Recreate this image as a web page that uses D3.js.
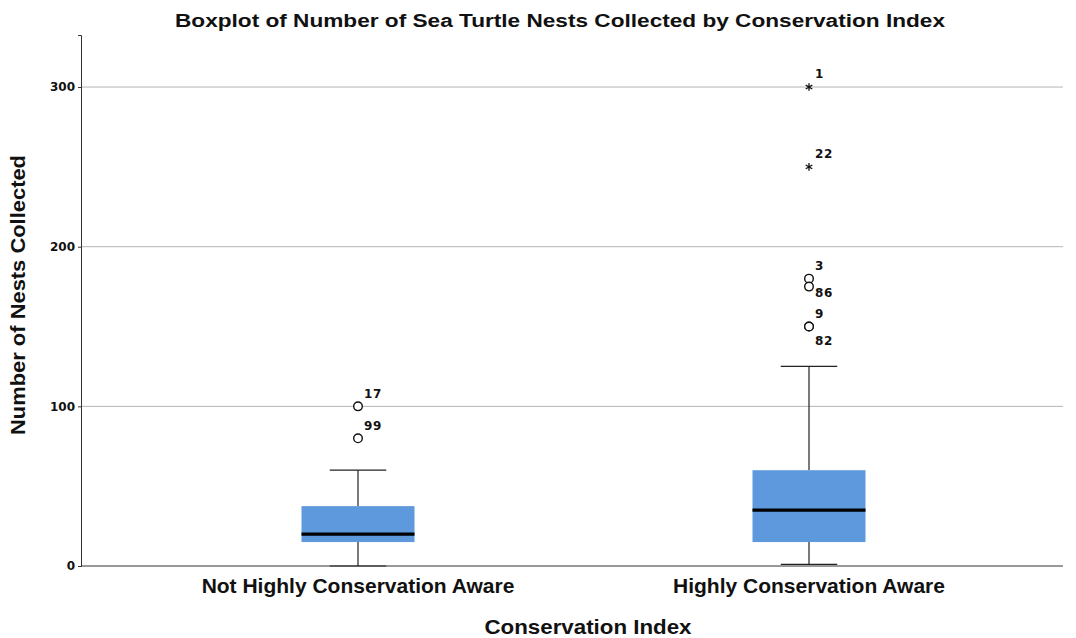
<!DOCTYPE html>
<html>
<head>
<meta charset="utf-8">
<script src="https://cdn.jsdelivr.net/npm/d3@7"></script>
<style>
  body { margin: 0; background: #fff; }
  svg { display: block; }
</style>
</head>
<body>
<svg id="chart" width="1076" height="638"></svg>
<script>
// Groups on the x axis
const categories = ["Not Highly Conservation Aware", "Highly Conservation Aware"];

// Five-number summaries per group (lower whisker, Q1, median, Q3, upper whisker)
const whiskerLow  = [0, 1];
const q1          = [15, 15];
const medians     = [20, 35];
const q3          = [37.5, 60];
const whiskerHigh = [60, 125];

// Outlying cases: group index, value, case id, kind ("o" = outlier, "*" = extreme)
const outlierGroup = [0, 0, 1, 1, 1, 1, 1, 1];
const outlierValue = [100, 80, 300, 250, 180, 175, 150, 150];
const outlierId    = ["17", "99", "1", "22", "3", "86", "9", "82"];
const outlierKind  = ["o", "o", "*", "*", "o", "o", "o", "o"];

const yTicks = [0, 100, 200, 300];

const title = "Boxplot of Number of Sea Turtle Nests Collected by Conservation Index";
const xTitle = "Conservation Index";
const yTitle = "Number of Nests Collected";

// Case labels that would collide are pushed below their marker
const labelBelow = { "86": 6, "82": 14 };

const svg = d3.select("#chart");
const plot = { left: 81, right: 1063, top: 35, bottom: 566 };
const font = "Liberation Sans, Arial, sans-serif";

const y = d3.scaleLinear().domain([0, 332.6]).range([plot.bottom, plot.top]);
const x = d3.scalePoint().domain(categories).range([358, 809]);
const boxW = 113;

// Grid lines
svg.append("g")
  .selectAll("line")
  .data(yTicks.filter(d => d > 0))
  .join("line")
  .attr("x1", plot.left).attr("x2", plot.right)
  .attr("y1", d => y(d)).attr("y2", d => y(d))
  .attr("stroke", "#b4b4b4").attr("stroke-width", 1);

// Y axis
const yAxis = svg.append("g")
  .attr("transform", `translate(${plot.left},0)`)
  .call(d3.axisLeft(y).tickValues(yTicks).tickSize(3).tickFormat(d3.format("d")));
yAxis.select(".domain").attr("stroke", "#333");
yAxis.selectAll(".tick line").attr("stroke", "#333");
yAxis.selectAll(".tick text")
  .attr("font-family", "DejaVu Sans")
  .attr("font-weight", "bold")
  .attr("font-size", 12)
  .attr("fill", "#111")
  .attr("x", -6);

// X axis line
svg.append("line")
  .attr("x1", plot.left).attr("x2", plot.right)
  .attr("y1", plot.bottom).attr("y2", plot.bottom)
  .attr("stroke", "#333").attr("stroke-width", 1);

// Boxes
const groups = svg.append("g").selectAll("g")
  .data(categories.map((c, i) => ({ c, i })))
  .join("g");

// whisker stems
groups.append("line")
  .attr("x1", d => x(d.c)).attr("x2", d => x(d.c))
  .attr("y1", d => y(whiskerLow[d.i])).attr("y2", d => y(q1[d.i]))
  .attr("stroke", "#222").attr("stroke-width", 1.2);
groups.append("line")
  .attr("x1", d => x(d.c)).attr("x2", d => x(d.c))
  .attr("y1", d => y(q3[d.i])).attr("y2", d => y(whiskerHigh[d.i]))
  .attr("stroke", "#222").attr("stroke-width", 1.2);
// whisker caps
[whiskerLow, whiskerHigh].forEach(arr => {
  groups.append("line")
    .attr("x1", d => x(d.c) - boxW / 4).attr("x2", d => x(d.c) + boxW / 4)
    .attr("y1", d => y(arr[d.i])).attr("y2", d => y(arr[d.i]))
    .attr("stroke", "#222").attr("stroke-width", 1.2);
});
// box
groups.append("rect")
  .attr("x", d => x(d.c) - boxW / 2)
  .attr("width", boxW)
  .attr("y", d => y(q3[d.i]))
  .attr("height", d => y(q1[d.i]) - y(q3[d.i]))
  .attr("fill", "#5e99de");
// median
groups.append("line")
  .attr("x1", d => x(d.c) - boxW / 2).attr("x2", d => x(d.c) + boxW / 2)
  .attr("y1", d => y(medians[d.i])).attr("y2", d => y(medians[d.i]))
  .attr("stroke", "#000").attr("stroke-width", 3.2);

// Outliers
const outliers = outlierValue.map((v, k) => ({
  g: categories[outlierGroup[k]], v, id: outlierId[k], kind: outlierKind[k]
}));

const og = svg.append("g");
og.selectAll("circle")
  .data(outliers.filter(d => d.kind === "o"))
  .join("circle")
  .attr("cx", d => x(d.g)).attr("cy", d => y(d.v))
  .attr("r", 4.3)
  .attr("fill", "#fff").attr("stroke", "#111").attr("stroke-width", 1.4);

og.selectAll("path")
  .data(outliers.filter(d => d.kind === "*"))
  .join("path")
  .attr("transform", d => `translate(${x(d.g)},${y(d.v)})`)
  .attr("d", d3.symbol(d3.symbolAsterisk, 40))
  .attr("fill", "none").attr("stroke", "#111").attr("stroke-width", 1.3);

og.selectAll("text")
  .data(outliers)
  .join("text")
  .attr("x", d => x(d.g) + 6)
  .attr("y", d => y(d.v) + (d.id in labelBelow ? labelBelow[d.id] : -13))
  .attr("dy", "0.36em")
  .attr("font-family", "DejaVu Sans")
  .attr("font-weight", "bold")
  .attr("font-size", 12)
  .attr("letter-spacing", 0.6)
  .attr("fill", "#111")
  .text(d => d.id);

// X category labels
svg.append("g").selectAll("text")
  .data(categories)
  .join("text")
  .attr("x", d => x(d)).attr("y", 593)
  .attr("text-anchor", "middle")
  .attr("font-family", font)
  .attr("font-weight", "bold")
  .attr("font-size", 21)
  .attr("fill", "#111")
  .text(d => d);

// Titles
svg.append("text")
  .attr("x", 560).attr("y", 27)
  .attr("text-anchor", "middle")
  .attr("font-family", font)
  .attr("font-weight", "bold")
  .attr("font-size", 18)
  .attr("textLength", 770)
  .attr("lengthAdjust", "spacingAndGlyphs")
  .attr("fill", "#111")
  .text(title);

svg.append("text")
  .attr("x", 588).attr("y", 634)
  .attr("text-anchor", "middle")
  .attr("font-family", font)
  .attr("font-weight", "bold")
  .attr("font-size", 21)
  .attr("textLength", 207)
  .attr("lengthAdjust", "spacingAndGlyphs")
  .attr("fill", "#111")
  .text(xTitle);

svg.append("text")
  .attr("transform", "translate(25,295) rotate(-90)")
  .attr("text-anchor", "middle")
  .attr("font-family", font)
  .attr("font-weight", "bold")
  .attr("font-size", 21)
  .attr("textLength", 280)
  .attr("lengthAdjust", "spacingAndGlyphs")
  .attr("fill", "#111")
  .text(yTitle);
</script>
</body>
</html>
